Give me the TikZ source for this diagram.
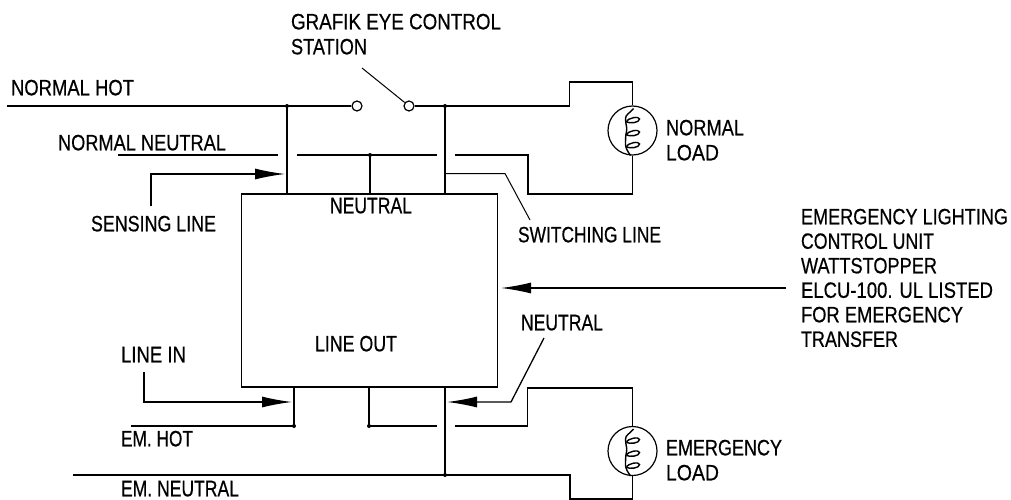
\documentclass[tikz,border=0pt]{standalone}
\usepackage{fontspec}
\usepackage{graphicx}
\setmainfont{Liberation Sans}[FakeBold=0.6]
\usetikzlibrary{arrows.meta}
\tikzset{
  x=1pt,y=-1pt,
  wire/.style={draw=black,line width=1.3pt,line cap=butt},
  thin wire/.style={draw=black,line width=1pt},
  lead/.style={wire,-{Latex[length=30pt,width=11pt]}},
  lbl/.style={anchor=base west,inner sep=0pt,outer sep=0pt,yshift=0.7pt,font=\fontsize{18}{18}\selectfont,text=black},
  term/.style={circle,draw=black,line width=1.2pt,fill=white,minimum size=10pt,inner sep=0pt},
  lamp/.style={circle,draw=black,line width=1.2pt,minimum size=49pt,inner sep=0pt},
  dot/.style={circle,fill=black,minimum size=4pt,inner sep=0pt},
  unit/.style={rectangle,draw=black,line width=1.3pt,minimum width=256pt,minimum height=193pt,inner sep=0pt},
}
\newcommand{\fittext}[2]{\resizebox{#1pt}{15.5pt}{#2}}
\newcommand{\filament}[1]{%
  \begin{scope}[shift={(#1)},line width=1.4pt,black]
    \draw (1,-22) .. controls (-3,-17) and (-7,-16) .. (-7,-12)
      .. controls (-7,-6) and (-5,-3) .. (-6,1)
      .. controls (-7,5) and (-7,10) .. (-7,14)
      .. controls (-7,18) and (-4,22) .. (-2,25);
    \foreach \yy in {-10,3,15}{
      \draw (-6,\yy+1.5) .. controls (-5,\yy-3) and (7,\yy-4.5) .. (7,\yy-1.5)
        .. controls (7,\yy+2.5) and (-3,\yy+3) .. (-6,\yy+1.5);}
  \end{scope}}
\begin{document}
\begin{tikzpicture}
\useasboundingbox (0,0) rectangle (1011,500);
% coordinates
\coordinate (hotL) at (7,106);
\coordinate (j1) at (287,106);
\coordinate (j2) at (445,106);
\coordinate (n1) at (118,155);
\coordinate (n1e) at (278,155);
\coordinate (n2) at (297,155);
\coordinate (n2e) at (437,155);
\coordinate (n3) at (455,155);
\coordinate (j3) at (370,155);
\coordinate (sw1) at (445,173.5);
\coordinate (sw2) at (505,173.5);
\coordinate (sw3) at (530,220);
\coordinate (se1) at (151,206);
\coordinate (se2) at (151,174);
\coordinate (se3) at (285,174);
\coordinate (lev1) at (362,68);
\coordinate (emT) at (131,426);
\coordinate (j4) at (294,426);
\coordinate (j5) at (369,426);
\coordinate (e1e) at (437,426);
\coordinate (e2) at (455,426);
\coordinate (enL) at (73,475);
\coordinate (j6) at (445,475);
\coordinate (li1) at (144,372);
\coordinate (li2) at (144,402);
\coordinate (li3) at (292,402);
\coordinate (ne1) at (544,338);
\coordinate (ne2) at (511,402);
\coordinate (ne3) at (447,402);
\coordinate (el1) at (786,288);
\coordinate (el2) at (501,288);
% nodes
\node[unit] (box) at (369.5,290.5) {};
\node[term] (t1) at (357,106) {};
\node[term] (t2) at (409,106) {};
\node[lamp] (lampN) at (632.5,130.5) {};
\node[lamp] (lampE) at (632.5,451) {};
% wires
\draw[wire] (hotL) -- (t1);
\draw[wire] (t2) -- (569.5,106) -- (569.5,82) -- (632.5,82) -- (lampN.north);
\draw[wire] (lampN.south) -- (632.5,194) -- (528,194) -- (528,155) -- (n3);
\draw[wire] (n1) -- (n1e);
\draw[wire] (n2) -- (n2e);
\draw[wire] (j1) -- (j1 |- box.north);
\draw[wire] (j2) -- (j2 |- box.north);
\draw[wire] (j3) -- (j3 |- box.north);
\draw[thin wire] (sw1) -- (sw2) -- (sw3);
\draw[thin wire] (lev1) -- (t2);
\draw[lead] (se1) -- (se2) -- (se3);
\draw[wire] (emT) -- (j4);
\draw[wire] (j4 |- box.south) -- (j4);
\draw[wire] (j5 |- box.south) -- (j5) -- (e1e);
\draw[wire] (e2) -- (527.5,426) -- (527.5,388) -- (632.5,388) -- (lampE.north);
\draw[wire] (enL) -- (j6);
\draw[wire] (j6 |- box.south) -- (j6);
\draw[wire] (j6) -- (570,475) -- (570,499) -- (632.5,499) -- (lampE.south);
\draw[lead] (li1) -- (li2) -- (li3);
\draw[lead] (ne1) -- (ne2) -- (ne3);
\draw[lead] (el1) -- (el2);
\filament{632.5,130.5}
\filament{632.5,451}
% dots
\foreach \p/\n in {j1/d1,j2/d2,j3/d3,j4/d4,j5/d5,j6/d6}{\node[dot] (\n) at (\p) {};}
% labels
\node[lbl] (a1) at (291,30) {\fittext{210}{GRAFIK EYE CONTROL}};
\node[lbl] (a2) at (291,55) {\fittext{76}{STATION}};
\node[lbl] (a3) at (11,96) {\fittext{123}{NORMAL HOT}};
\node[lbl] (a4) at (58,151) {\fittext{168}{NORMAL NEUTRAL}};
\node[lbl] (a5) at (91,232) {\fittext{125}{SENSING LINE}};
\node[lbl] (a6) at (330,214) {\fittext{82}{NEUTRAL}};
\node[lbl] (a7) at (518,243) {\fittext{143}{SWITCHING LINE}};
\node[lbl] (a8) at (666,136) {\fittext{78}{NORMAL}};
\node[lbl] (a9) at (666,161) {\fittext{53}{LOAD}};
\node[lbl] (b1) at (801,225) {\fittext{207}{EMERGENCY LIGHTING}};
\node[lbl] (b2) at (801,249.5) {\fittext{133}{CONTROL UNIT}};
\node[lbl] (b3) at (801,274) {\fittext{136}{WATTSTOPPER}};
\node[lbl] (b4) at (801,298.5) {\fittext{192}{ELCU-100. UL LISTED}};
\node[lbl] (b5) at (801,323) {\fittext{162}{FOR EMERGENCY}};
\node[lbl] (b6) at (801,347.5) {\fittext{97}{TRANSFER}};
\node[lbl] (c1) at (521,331) {\fittext{82}{NEUTRAL}};
\node[lbl] (c2) at (121,363) {\fittext{65}{LINE IN}};
\node[lbl] (c3) at (315,352) {\fittext{82}{LINE OUT}};
\node[lbl] (c4) at (121,447) {\fittext{72}{EM. HOT}};
\node[lbl] (c5) at (121,497) {\fittext{118}{EM. NEUTRAL}};
\node[lbl] (c6) at (666,456) {\fittext{116}{EMERGENCY}};
\node[lbl] (c7) at (666,481) {\fittext{53}{LOAD}};
\end{tikzpicture}
\end{document}
